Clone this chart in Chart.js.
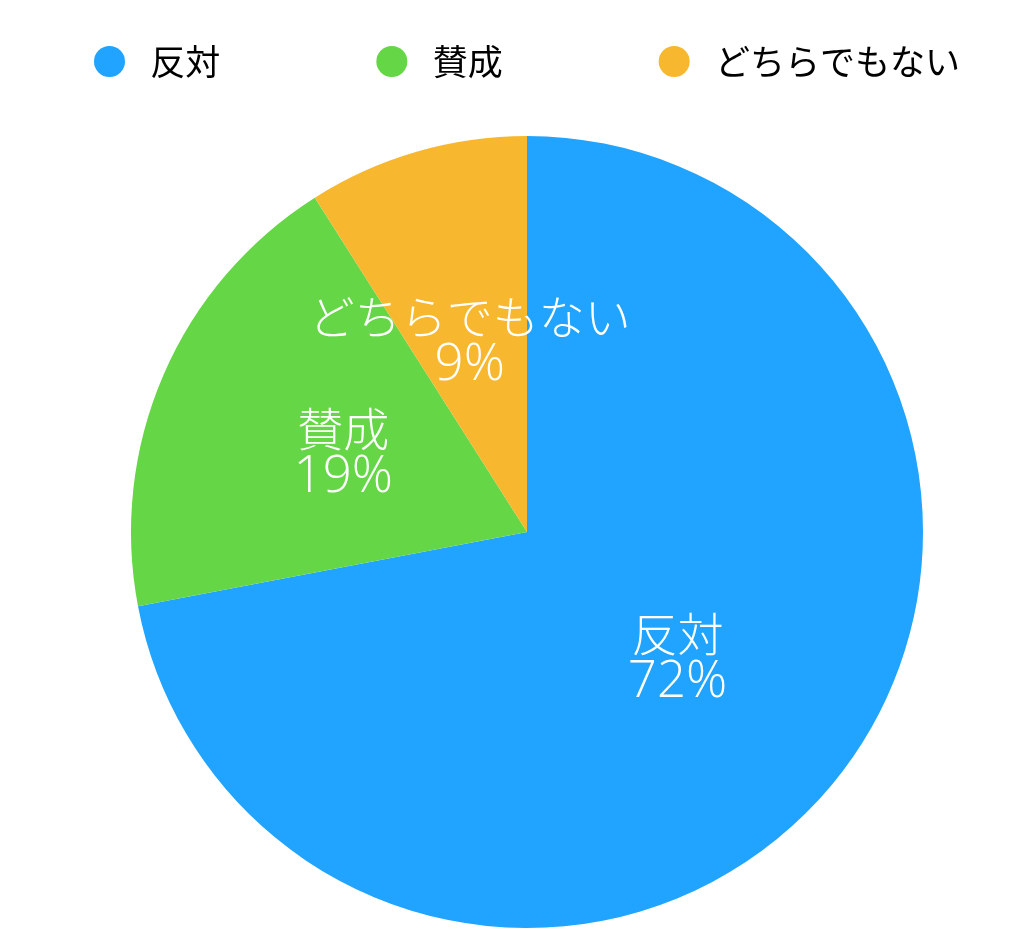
<!DOCTYPE html>
<html lang="ja">
<head>
<meta charset="utf-8">
<script src="https://cdn.jsdelivr.net/npm/chart.js@4"></script>
<style>
  html, body { margin: 0; padding: 0; background: #fff; }
  #wrap { width: 1024px; height: 942px; }
</style>
</head>
<body>
<div id="wrap"><canvas id="pie"></canvas></div>
<script>
// --- data ---
const categories = ["反対", "賛成", "どちらでもない"];
const values = [72, 19, 9];
const colors = ["#20A4FF", "#65D646", "#F7B82F"];

const FONT = "'Noto Sans CJK JP', 'Noto Sans', sans-serif";
const LABEL_FONT = "'Open Sans', 'Noto Sans CJK JP', sans-serif";

// extra room under the legend
const legendSpacer = {
	id: "legendSpacer",
	beforeInit(chart) {
		const fit = chart.legend.fit;
		chart.legend.fit = function () {
			fit.call(this);
			this.height += 47;
		};
	},
};

// name + percent drawn in the middle of each slice
const sliceLabels = {
	id: "sliceLabels",
	afterDatasetsDraw(chart) {
		const ctx = chart.ctx;
		const total = values.reduce((a, b) => a + b, 0);
		chart.getDatasetMeta(0).data.forEach((arc, i) => {
			const pos = arc.tooltipPosition();
			const pct = Math.round((values[i] / total) * 100) + "%";
			ctx.save();
			ctx.fillStyle = "#fff";
			ctx.textAlign = "center";
			ctx.textBaseline = "middle";
			ctx.font = "300 46px " + FONT;
			ctx.fillText(categories[i], pos.x - 2, pos.y - 25);
			ctx.font = "300 51px " + LABEL_FONT;
			ctx.fillText(pct, pos.x - 2, pos.y + 24);
			ctx.restore();
		});
	},
};

new Chart(document.getElementById("pie"), {
	type: "pie",
	data: {
		labels: categories,
		datasets: [
			{
				data: values,
				backgroundColor: colors,
				borderWidth: 0,
			},
		],
	},
	options: {
		responsive: true,
		maintainAspectRatio: false,
		animation: false,
		layout: { padding: { top: 28, left: 30, right: 0, bottom: 14 } },
		plugins: {
			tooltip: { enabled: false },
			legend: {
				position: "top",
				labels: {
					usePointStyle: true,
					pointStyle: "circle",
					pointStyleWidth: 31,
					boxHeight: 22,
					padding: 16,
					color: "#000",
					font: { family: FONT, size: 35 },
					generateLabels(chart) {
						const items = Chart.overrides.pie.plugins.legend.labels.generateLabels(chart);
						items.forEach((it, i) => {
							it.text = " " + it.text + (i < items.length - 1 ? "\u3000\u3000\u3000\u3000" : "");
							it.lineWidth = 0;
						});
						return items;
					},
				},
			},
		},
	},
	plugins: [legendSpacer, sliceLabels],
});
</script>
</body>
</html>
